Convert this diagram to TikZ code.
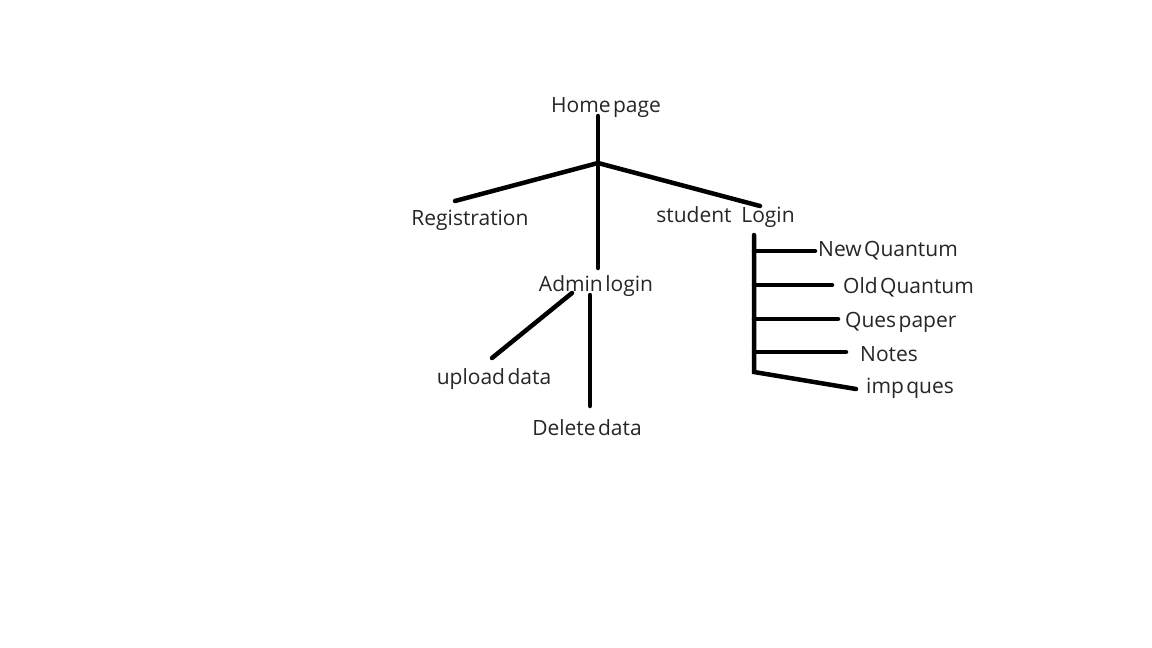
\documentclass[tikz,border=0pt]{standalone}
\usepackage{fontspec}
\setmainfont{Open Sans}[WordSpace=0.45]
\usetikzlibrary{positioning}
\usetikzlibrary{calc}

\begin{document}
\begin{tikzpicture}[x=1pt,y=-1pt,
    branch/.style={line width=4.5pt,line cap=round},
    lbl/.style={inner sep=0pt,text=black!85,font=\fontsize{21}{24}\selectfont}]
		\useasboundingbox[fill=white] (0,0) rectangle (1152,648);

		% Define the coordinates of the points
		\coordinate (top) at (598,116);
		\coordinate (hub) at (598,163);
		\coordinate (reg) at (455,201);
		\coordinate (log) at (760,206);
		\coordinate (adm) at (598,268);
		\coordinate (up1) at (572,293);
		\coordinate (up2) at (492,358);
		\coordinate (del1) at (590,295);
		\coordinate (del2) at (590,406);
		\coordinate (s1) at (754,235);
		\coordinate (s2) at (754,372);
		\coordinate (nq) at (815,251);
		\coordinate (oq) at (832,285);
		\coordinate (qp) at (838,319);
		\coordinate (nt) at (846,352);
		\coordinate (iq) at (856,389);

        % Draw the lines
        \draw[branch] (top) -- (adm);
        \draw[branch] (reg) -- (hub) -- (log);
        \draw[branch] (up1) -- (up2);
        \draw[branch] (del1) -- (del2);
        \draw[branch] (s1) -- (s2) -- (iq);
        \foreach \y/\e in {251/nq, 285/oq, 319/qp, 352/nt}
        \draw[branch] (754,\y) -- (\e);

        % Labels
        \node[lbl] (home) at (606,108) {Home page};
        \node[lbl] (registration) at (470,220) {Registration};
        \node[lbl] (student) at (694,215) {student};
        \node[lbl] (login) at (768,217) {Login};
        \node[lbl] (admin) at (596,286) {Admin login};
        \node[lbl] (upload) at (494,379) {upload data};
        \node[lbl] (delete) at (587,428) {Delete data};
        \node[lbl,anchor=west] (newq) at (818,251) {New Quantum};
        \node[lbl,anchor=west] (oldq) at (843,287) {Old Quantum};
        \node[lbl,anchor=west] (ques) at (845,322) {Ques paper};
        \node[lbl,anchor=west] (notes) at (860,354) {Notes};
        \node[lbl,anchor=west] (imp) at (866,388) {imp ques};
     \end{tikzpicture}
\end{document}
